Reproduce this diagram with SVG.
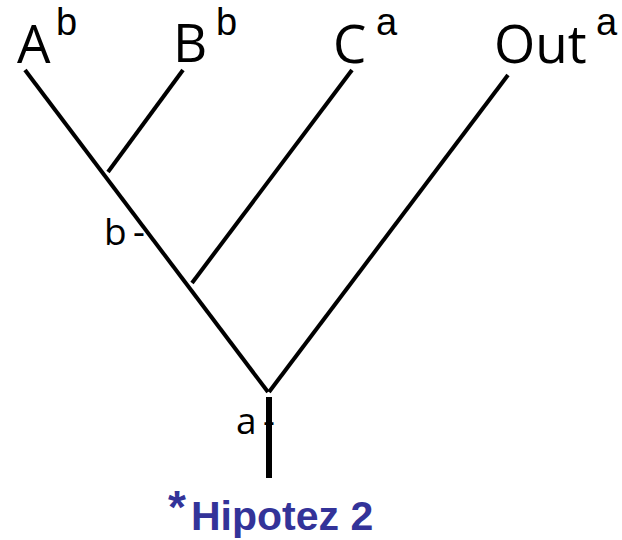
<svg xmlns="http://www.w3.org/2000/svg" width="622" height="540" viewBox="0 0 622 540">
<style>
.lbl{font-family:"Open Sans","Noto Sans",sans-serif;font-size:53px;fill:#000}
.sup{font-family:"Liberation Sans",Arial,sans-serif;font-size:38px;fill:#000}
.small{font-family:"Open Sans","Noto Sans",sans-serif;font-size:37px;fill:#000}
.edge{stroke:#000;stroke-width:4;fill:none;stroke-linecap:butt}
.root{stroke:#000;stroke-width:6;fill:none}
.title{font-family:"Liberation Sans",Arial,sans-serif;font-weight:bold;font-size:41px;fill:#333399}
</style>
<rect width="622" height="540" fill="#fff"/>
<g id="connectors">
<line class="edge" x1="25" y1="70" x2="268" y2="392"/>
<line class="edge" x1="508" y1="75" x2="269" y2="392"/>
<line class="edge" x1="183" y1="70" x2="108" y2="172"/>
<line class="edge" x1="352" y1="70" x2="192" y2="283"/>
<line class="root" x1="269" y1="397" x2="269" y2="478"/>
</g>
<g id="node-A"><text class="lbl" x="17" y="63">A</text><text class="sup" x="56" y="35">b</text></g>
<g id="node-B"><text class="lbl" x="173" y="62">B</text><text class="sup" x="216" y="35">b</text></g>
<g id="node-C"><text class="lbl" x="333" y="63">C</text><text class="sup" x="376" y="35">a</text></g>
<g id="node-Out"><text class="lbl" x="494" y="63">Out</text><text class="sup" x="596" y="35">a</text></g>
<g id="label-b"><text class="small" y="245"><tspan x="104">b</tspan><tspan x="133">-</tspan></text></g>
<g id="label-a"><text class="small" y="434"><tspan x="236">a</tspan><tspan x="263">-</tspan></text></g>
<g id="title"><text class="title" y="530"><tspan x="168" dy="-7" font-size="46">*</tspan><tspan x="191" dy="7">Hipotez 2</tspan></text></g>
</svg>
